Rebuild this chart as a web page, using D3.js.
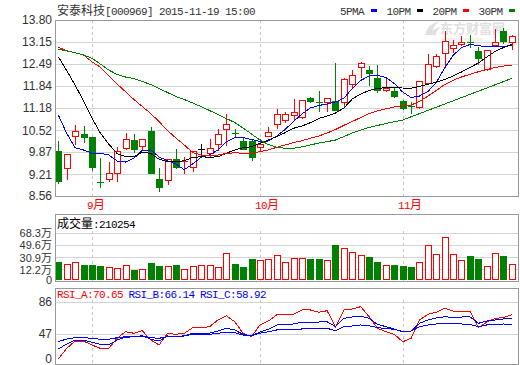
<!DOCTYPE html>
<html><head><meta charset="utf-8">
<script src="https://cdn.jsdelivr.net/npm/d3@7/dist/d3.min.js"></script>
<style>body{margin:0;background:#fff}svg{display:block}</style>
</head><body><svg id="c" width="520" height="365"></svg>
<script>
// ---------- data ----------
const dates = ["2015-08-26","2015-08-27","2015-08-28","2015-08-31",
"2015-09-01","2015-09-02","2015-09-07","2015-09-08","2015-09-09","2015-09-10","2015-09-11","2015-09-14","2015-09-15","2015-09-16","2015-09-17","2015-09-18","2015-09-21","2015-09-22","2015-09-23","2015-09-24","2015-09-25","2015-09-28","2015-09-29","2015-09-30",
"2015-10-08","2015-10-09","2015-10-12","2015-10-13","2015-10-14","2015-10-15","2015-10-16","2015-10-19","2015-10-20","2015-10-21","2015-10-22","2015-10-23","2015-10-26","2015-10-27","2015-10-28","2015-10-29","2015-10-30",
"2015-11-02","2015-11-03","2015-11-04","2015-11-05","2015-11-06","2015-11-09","2015-11-10","2015-11-11","2015-11-12","2015-11-13","2015-11-16","2015-11-17","2015-11-18","2015-11-19"];
const openP  = [9.90,9.40,10.35,10.41,10.31,8.99,9.06,9.24,9.98,10.23,10.05,10.50,9.07,9.04,9.66,9.57,9.43,9.95,9.83,10.10,10.56,10.45,10.21,10.21,10.03,10.36,10.70,10.82,10.96,10.92,11.49,11.35,11.37,11.40,11.37,11.90,12.41,12.30,12.06,11.73,11.69,11.39,11.25,11.22,11.93,12.43,12.81,12.96,13.08,13.15,12.89,12.33,13.06,13.48,13.14];
const highP  = [10.21,9.81,10.67,10.64,10.32,9.68,9.57,10.01,10.45,10.40,10.25,10.62,9.39,9.66,9.95,9.71,9.91,10.10,10.25,10.55,11.00,10.55,10.33,10.25,10.25,10.61,11.14,11.05,11.44,11.42,11.52,11.69,11.47,12.53,12.06,12.31,12.56,12.42,12.46,12.06,11.77,11.42,11.37,11.99,12.78,12.78,13.47,13.21,13.32,13.35,13.01,12.91,13.52,13.55,13.34];
const lowP   = [8.94,9.06,10.10,10.18,9.33,8.82,9.02,9.02,9.97,9.88,9.93,9.25,8.72,8.92,9.39,9.25,9.31,9.71,9.75,9.93,10.08,10.31,9.95,9.63,9.93,10.35,10.58,10.77,10.82,10.87,11.37,11.10,11.10,11.12,11.22,11.77,12.11,11.87,11.67,11.69,11.52,11.15,11.02,11.17,11.90,12.41,12.41,12.86,13.06,13.01,12.49,12.31,13.03,13.12,12.93];
const closeP = [9.02,9.80,10.50,10.33,9.43,8.98,9.24,9.91,10.25,9.95,10.25,9.25,8.82,9.65,9.43,9.59,9.91,9.95,10.00,10.41,10.70,10.44,9.95,9.73,10.11,10.47,11.00,11.00,11.05,11.42,11.40,11.34,11.47,11.12,12.04,12.16,12.51,12.23,11.72,11.79,11.55,11.17,11.24,11.98,12.48,12.73,13.18,13.06,13.15,13.14,12.66,12.91,13.15,13.18,13.33];
const volume = [24.0,20.5,23.6,18.9,18.9,17.3,15.3,13.8,18.4,11.4,12.2,22.5,17.3,17.3,18.9,12.2,16.9,18.4,18.9,15.3,37.0,20.5,15.3,27.8,26.7,27.8,34.4,23.1,29.3,29.3,27.8,27.8,26.7,49.6,44.6,38.5,34.4,30.9,23.1,18.9,18.9,17.3,15.3,23.1,49.6,35.9,61.3,35.9,26.7,32.9,27.8,17.3,37.0,32.9,21.03];
const ma5  = [10.972,10.427,9.998,9.930,9.831,9.831,9.781,9.602,9.572,9.682,9.921,9.930,9.721,9.611,9.513,9.343,9.513,9.712,9.781,9.930,10.168,10.302,10.302,10.242,10.183,10.197,10.346,10.540,10.778,11.001,11.180,11.254,11.299,11.359,11.469,11.761,11.999,12.133,12.148,12.088,11.909,11.656,11.493,11.537,11.671,11.939,12.371,12.743,12.981,13.071,13.041,12.996,13.005,13.011,13.047];
const ma10 = [12.707,12.296,11.865,11.388,10.882,10.436,10.108,9.825,9.730,9.730,9.870,9.825,9.653,9.581,9.581,9.611,9.706,9.730,9.712,9.730,9.831,9.930,9.998,10.028,10.129,10.227,10.326,10.445,10.576,10.644,10.742,10.867,10.942,11.031,11.180,11.448,11.597,11.701,11.761,11.790,11.790,11.775,11.767,11.820,11.886,11.954,12.029,12.133,12.252,12.386,12.520,12.698,12.862,12.981,13.071];
const ma20 = [12.987,12.886,12.826,12.758,12.558,12.392,12.133,11.895,11.665,11.433,11.225,11.016,10.772,10.510,10.287,10.078,9.855,9.781,9.751,9.781,9.825,9.849,9.831,9.831,9.879,9.930,10.010,10.078,10.147,10.206,10.278,10.346,10.436,10.540,10.665,10.778,10.897,11.016,11.091,11.156,11.210,11.240,11.269,11.373,11.537,11.701,11.880,12.005,12.103,12.183,12.258,12.326,12.386,12.430,12.460];
const ma30 = [12.928,12.877,12.826,12.758,12.660,12.490,12.311,12.177,12.103,12.058,11.969,11.880,11.761,11.641,11.522,11.433,11.329,11.222,11.106,10.986,10.867,10.748,10.585,10.406,10.227,10.093,10.010,9.980,9.980,10.025,10.078,10.138,10.177,10.227,10.332,10.436,10.525,10.599,10.659,10.719,10.772,10.823,10.918,11.013,11.109,11.204,11.299,11.394,11.490,11.585,11.680,11.775,11.871,11.966,12.064];
const rsiA = [7.8,24.6,36.0,36.0,29.8,24.6,24.6,40.3,49.8,47.9,51.0,37.6,29.8,47.9,46.5,47.9,54.7,54.7,55.9,64.1,69.3,62.0,47.9,42.8,58.0,62.8,70.2,70.2,71.0,76.3,76.3,73.5,75.4,55.9,76.3,77.5,80.3,68.1,53.9,49.8,46.5,34.9,40.3,64.1,71.0,73.5,78.3,75.0,75.0,75.0,54.7,61.3,66.1,66.9,70.65];
const rsiB = [23.5,31.3,37.6,37.6,34.0,30.9,29.8,37.6,41.8,42.8,44.3,38.7,36.0,43.9,42.8,44.3,47.9,47.9,47.9,50.7,53.9,51.9,46.5,44.3,49.4,52.7,58.0,58.6,59.2,61.3,61.6,61.6,62.0,55.9,66.1,67.7,68.9,66.1,58.8,55.9,53.1,49.8,50.7,60.0,64.1,66.5,68.1,67.1,67.7,68.1,60.0,62.8,64.1,65.3,66.14];
const rsiC = [35.0,39.2,41.2,41.2,40.3,38.7,38.7,41.2,42.8,42.8,43.9,41.2,40.3,42.8,42.8,43.9,46.5,46.5,46.5,47.9,49.1,48.6,45.4,44.3,47.9,49.8,51.9,52.2,52.7,53.1,53.3,53.5,53.9,51.0,55.9,56.8,58.0,57.1,54.7,53.7,52.7,49.8,50.7,55.9,58.0,59.2,60.0,59.4,59.2,58.8,55.9,58.0,58.8,59.2,58.92];
const priceTicks = [13.80,13.15,12.49,11.84,11.18,10.52,9.87,9.21,8.56];
const volTicks = [0,12.2,30.9,49.6,68.3];
const rsiTicks = [0,47,86];
const monthStarts = ["2015-09-01","2015-10-08","2015-11-02"];
const monthLabels = ["9月","10月","11月"];
const maNames = ["5PMA","10PM","20PM","30PM"];
const maColors = ["#0000ff","#000000","#ff0000","#008000"];
const titleText = "安泰科技[000969] 2015-11-19 15:00";
const volLabel = "成交量:210254";
const rsiLabels = ["RSI_A:70.65","RSI_B:66.14","RSI_C:58.92"];
const rsiColors = ["#ff0000","#0000ff","#0000ff"];

// ---------- layout ----------
const L = 55, R = 519;
const main = {top:20, bottom:196};
const volP = {top:214, bottom:281};
const rsiP = {top:288, bottom:364};
const RED="#ff0000", GREEN="#008000", FRAME="#999999", GRID="#d4d4d4";

const svg = d3.select("#c");
const x = d3.scalePoint().domain(dates).range([58.3, 511.9]);
const y = d3.scaleLinear().domain([8.56,13.80]).range([main.bottom, main.top]);
const vy = d3.scaleLinear().domain(volTicks).range([280,269.3,257.3,245,232.7]);
const ry = d3.scaleLinear().domain(rsiTicks).range([364,334,302]);

const isCJK = ch => /[\u3000-\u9fff\uff00-\uffef]/.test(ch);
function mixedText(g, x0, yb, str, color){
  const t = g.append("text").attr("y", yb).attr("fill", color);
  let cx = x0, run = "", runCJK = null, runX = x0;
  const flush = () => {
    if(!run) return;
    const ts = t.append("tspan").attr("x", runX).text(run);
    if(runCJK) ts.attr("font-family","'Noto Sans CJK SC'").attr("font-size","12px");
    else ts.attr("font-family","'Liberation Mono','DejaVu Sans Mono',monospace").attr("font-size","11px").attr("letter-spacing","-0.6px");
    run = "";
  };
  for(const ch of str){
    const c = isCJK(ch);
    if(runCJK!==null && c!==runCJK){ flush(); runX = cx; }
    if(!run) runX = cx;
    runCJK = c; run += ch; cx += c ? 12 : 6;
  }
  flush();
  return t;
}

// ---------- frames & grids ----------
const crisp = v => Math.round(v) + 0.5;
function hline(yv, x1, x2, color, dash){
  const l = svg.append("line").attr("x1",x1).attr("x2",x2).attr("y1",crisp(yv)).attr("y2",crisp(yv))
    .attr("stroke",color).attr("stroke-width",1).attr("shape-rendering","crispEdges");
  if(dash) l.attr("stroke-dasharray",dash);
}
function vline(xv, y1, y2, color, dash){
  const l = svg.append("line").attr("x1",crisp(xv)).attr("x2",crisp(xv)).attr("y1",y1).attr("y2",y2)
    .attr("stroke",color).attr("stroke-width",1).attr("shape-rendering","crispEdges");
  if(dash) l.attr("stroke-dasharray",dash);
}
priceTicks.slice(1,-1).forEach(t => hline(y(t), L, R, GRID));
volTicks.slice(1).forEach(t => hline(vy(t), L, R, GRID));
hline(ry(47), L, R, GRID); hline(ry(86), L, R, GRID);
monthStarts.forEach(d => {
  vline(x(d), main.top, main.bottom, "#c8c8c8", "3,3");
  vline(x(d), 231, volP.bottom, "#c8c8c8", "3,3");
  vline(x(d), 300, rsiP.bottom, "#c8c8c8", "3,3");
});

// watermark
const wm = svg.append("g").attr("fill","#e0e0e0");
wm.append("path").attr("d","M425 35 Q428 23 440 21 Q432 26 432 35 Z M430 35 Q433 28 441 27 Q436 30 436 35 Z");
wm.append("text").attr("x",440).attr("y",33).attr("font-family","'Noto Sans CJK SC'").attr("font-size","13px").attr("font-weight","bold").text("东方财富网");
wm.append("text").attr("x",441).attr("y",41).attr("font-family","'Liberation Sans'").attr("font-size","6px").text("eastmoney.com");

// ---------- candles ----------
const cg = svg.append("g").attr("shape-rendering","crispEdges");
dates.forEach((d,i) => {
  const o=openP[i], c=closeP[i], h=highP[i], l=lowP[i];
  const cx = Math.round(x(d)), px = cx + 0.5;
  const col = c > o ? RED : (c < o ? GREEN : "#000000");
  const yT = Math.round(y(Math.max(o,c))), yB = Math.round(y(Math.min(o,c)));
  const yH = Math.round(y(h)), yL = Math.round(y(l));
  if (yB - yT < 1.5) {
    cg.append("line").attr("x1",px).attr("x2",px).attr("y1",yH).attr("y2",yL+1).attr("stroke",col);
    cg.append("line").attr("x1",cx-3).attr("x2",cx+4).attr("y1",yT+0.5).attr("y2",yT+0.5).attr("stroke",col);
  } else if (c > o) {
    if (yH < yT) cg.append("line").attr("x1",px).attr("x2",px).attr("y1",yH).attr("y2",yT).attr("stroke",col);
    if (yL > yB) cg.append("line").attr("x1",px).attr("x2",px).attr("y1",yB+1).attr("y2",yL+1).attr("stroke",col);
    cg.append("rect").attr("x",cx-2.5).attr("y",yT+0.5).attr("width",6).attr("height",yB-yT)
      .attr("fill","#fff").attr("stroke",col);
  } else {
    cg.append("line").attr("x1",px).attr("x2",px).attr("y1",yH).attr("y2",yL+1).attr("stroke",col);
    cg.append("rect").attr("x",cx-3).attr("y",yT).attr("width",7).attr("height",yB-yT+1).attr("fill",col);
  }
});

// ---------- MA lines ----------
[ma5,ma10,ma20,ma30].forEach((arr,k) => {
  svg.append("path").datum(arr)
    .attr("d", d3.line().x((v,i)=>x(dates[i])).y(v=>y(v)))
    .attr("fill","none").attr("stroke",maColors[k]).attr("stroke-width",1)
    .attr("shape-rendering","crispEdges");
});

// ---------- volume ----------
const vg = svg.append("g").attr("shape-rendering","crispEdges");
dates.forEach((d,i) => {
  const cx = Math.round(x(d));
  const top = Math.round(vy(volume[i]));
  const base = 280;
  if (closeP[i] >= openP[i]) {
    vg.append("rect").attr("x",cx-2.5).attr("y",top+0.5).attr("width",6).attr("height",base-top-1)
      .attr("fill","#fff").attr("stroke",RED);
  } else {
    vg.append("rect").attr("x",cx-3).attr("y",top).attr("width",7).attr("height",base-top).attr("fill",GREEN);
  }
});

// ---------- RSI ----------
[rsiA,rsiB,rsiC].forEach((arr,k) => {
  svg.append("path").datum(arr)
    .attr("d", d3.line().x((v,i)=>x(dates[i])).y(v=>ry(v)))
    .attr("fill","none").attr("stroke",rsiColors[k]).attr("stroke-width",1)
    .attr("shape-rendering","crispEdges");
});

// ---------- frames ----------
function frame(p){
  svg.append("rect").attr("x",L+0.5).attr("y",p.top+0.5).attr("width",R-L-1).attr("height",p.bottom-p.top)
    .attr("fill","none").attr("stroke",FRAME).attr("shape-rendering","crispEdges");
}
frame(main); frame(volP); frame(rsiP);

// ---------- axes labels ----------
const axFont = "'Liberation Sans',Arial,'Noto Sans CJK SC',sans-serif";
const ay = svg.append("g").attr("transform",`translate(${L},0)`)
  .call(d3.axisLeft(y).tickValues(priceTicks).tickSize(0).tickPadding(3).tickFormat(d3.format(".2f")));
const av = svg.append("g").attr("transform",`translate(${L},0)`)
  .call(d3.axisLeft(vy).tickValues(volTicks).tickSize(0).tickPadding(3).tickFormat(v => v===0 ? "0" : d3.format(".1f")(v)+"万"));
const ar = svg.append("g").attr("transform",`translate(${L},0)`)
  .call(d3.axisLeft(ry).tickValues(rsiTicks).tickSize(0).tickPadding(3).tickFormat(d3.format("d")));
[ay,ar].forEach(a => {
  a.select(".domain").remove();
  a.selectAll("text").attr("font-family",axFont).attr("font-size","12px").attr("fill","#333");
});
av.select(".domain").remove();
av.selectAll("text").attr("font-family",axFont).attr("font-size","11px").attr("fill","#333").attr("dy","0.36em");
// keep the bottom RSI "0" label inside the picture
ar.selectAll(".tick").filter(d => d === 0).select("text").attr("dy","-0.1em");

// ---------- texts ----------
mixedText(svg, 57, 14.5, titleText, "#333");
const legX = [340, 386.5, 432.5, 478.5], markX = [371, 417, 463, 509];
maNames.forEach((n,k) => {
  mixedText(svg, legX[k], 14.5, n, "#333");
  svg.append("rect").attr("x",markX[k]).attr("y",9).attr("width",6).attr("height",3).attr("fill",maColors[k]);
});
monthStarts.forEach((d,k) => mixedText(svg, Math.round(x(d)) - 5, 209, monthLabels[k], RED));
mixedText(svg, 57, 228, volLabel, "#000");
const rsiX = [57, 128.5, 200];
rsiLabels.forEach((s,k) => mixedText(svg, rsiX[k], 297.5, s, rsiColors[k]));
</script></body></html>
